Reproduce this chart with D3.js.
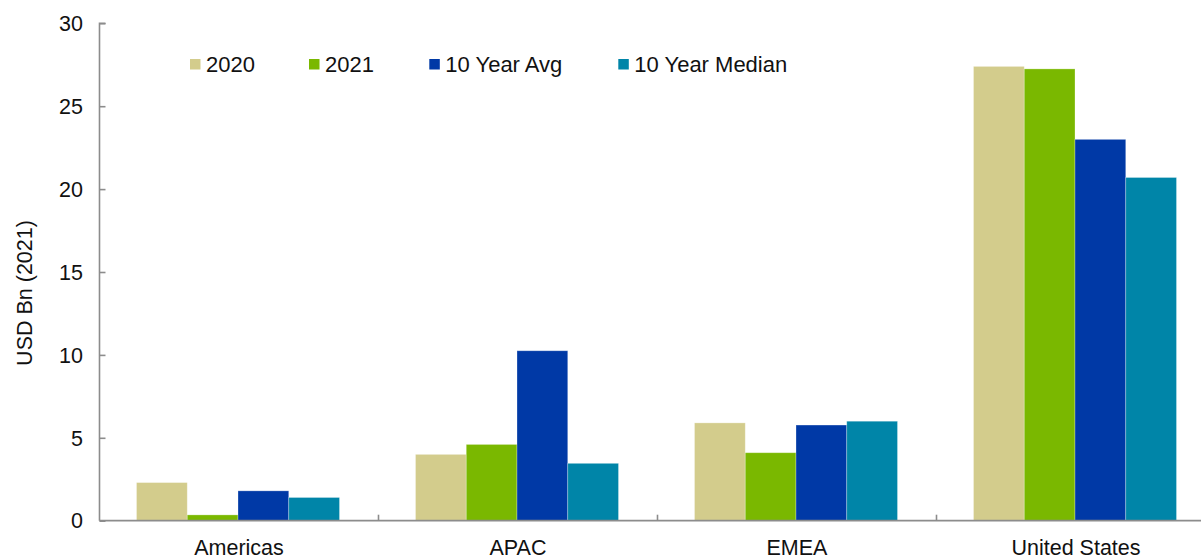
<!DOCTYPE html>
<html>
<head>
<meta charset="utf-8">
<script src="https://cdn.jsdelivr.net/npm/d3@7"></script>
<style>
  html, body { margin: 0; padding: 0; background: #fff; }
  svg { display: block; }
  text { font-family: "Liberation Sans", Arial, sans-serif; fill: #111; }
</style>
</head>
<body>
<div id="chart"></div>
<script>
// Regional totals, USD Bn (2021)
const regions = ["Americas", "APAC", "EMEA", "United States"];
const seriesNames = ["2020", "2021", "10 Year Avg", "10 Year Median"];
const values2020 = [2.3, 4.0, 5.9, 27.4];
const values2021 = [0.35, 4.6, 4.1, 27.25];
const valuesAvg = [1.8, 10.25, 5.77, 23.0];
const valuesMedian = [1.4, 3.46, 6.0, 20.7];
const seriesColors = ["#d3cc8c", "#7ab800", "#0039a6", "#0085a8"];
const yTicks = [0, 5, 10, 15, 20, 25, 30];

const seriesValues = [values2020, values2021, valuesAvg, valuesMedian];
const rows = regions.map((r, i) => ({
  region: r,
  vals: seriesNames.map((s, j) => ({ key: s, value: seriesValues[j][i], color: seriesColors[j] }))
}));

const W = 1201, H = 557;
const plotLeft = 99.5, plotTop = 23.3, plotBottom = 520.7;
const bandW = 279;

const svg = d3.select("#chart").append("svg").attr("width", W).attr("height", H);

const x0 = d3.scaleBand().domain(regions).range([plotLeft, plotLeft + bandW * regions.length]).padding(0);
const x1 = d3.scaleBand().domain(seriesNames).range([37, 240]).padding(0);
const y = d3.scaleLinear().domain([0, 30]).range([plotBottom, plotTop]);

// bars
const groups = svg.append("g").selectAll("g").data(rows).join("g")
  .attr("transform", d => `translate(${x0(d.region)},0)`);
groups.selectAll("rect").data(d => d.vals).join("rect")
  .attr("x", d => x1(d.key))
  .attr("y", d => y(d.value))
  .attr("width", x1.bandwidth())
  .attr("height", d => y(0) - y(d.value))
  .attr("fill", d => d.color)
  .attr("stroke", "rgba(255,255,255,0.35)")
  .attr("stroke-width", 0.8);

// y axis (ticks point into the plot)
const yAxis = d3.axisRight(y).tickValues(yTicks).tickSize(6).tickFormat("");
const gy = svg.append("g").attr("transform", `translate(${plotLeft},0)`).call(yAxis);
gy.select(".domain").attr("stroke", "#8c8c8c").attr("stroke-width", 1.6).attr("d", `M6,${plotTop}H0V${plotBottom}`);
gy.selectAll(".tick line").attr("stroke", "#8c8c8c").attr("stroke-width", 1.6);

svg.append("g").selectAll("text").data(yTicks).join("text")
  .attr("x", 83)
  .attr("y", d => y(d))
  .attr("dy", "0.36em")
  .attr("text-anchor", "end")
  .style("font-size", "21.5px")
  .text(d => d);

// x axis with boundary ticks between regions
const boundaries = regions.map(r => x0(r)).concat([plotLeft + bandW * regions.length]);
const gx = svg.append("g");
gx.append("line")
  .attr("x1", plotLeft).attr("x2", W)
  .attr("y1", plotBottom).attr("y2", plotBottom)
  .attr("stroke", "#8c8c8c").attr("stroke-width", 1.8);
gx.selectAll("line.b").data(boundaries.slice(1)).join("line")
  .attr("class", "b")
  .attr("x1", d => d).attr("x2", d => d)
  .attr("y1", plotBottom).attr("y2", plotBottom - 6)
  .attr("stroke", "#8c8c8c").attr("stroke-width", 1.6);

svg.append("g").selectAll("text").data(regions).join("text")
  .attr("x", d => x0(d) + x0.bandwidth() / 2)
  .attr("y", 554.5)
  .attr("text-anchor", "middle")
  .style("font-size", "21.5px")
  .text(d => d);

// y axis title
svg.append("text")
  .attr("transform", "translate(32,293) rotate(-90)")
  .attr("text-anchor", "middle")
  .style("font-size", "21.5px")
  .text("USD Bn (2021)");

// legend
const legendX = [190, 309, 429.3, 618.3];
const lg = svg.append("g").selectAll("g").data(seriesNames).join("g")
  .attr("transform", (d, i) => `translate(${legendX[i]},0)`);
lg.append("rect")
  .attr("x", 0).attr("y", 59)
  .attr("width", 10.5).attr("height", 10.5)
  .attr("fill", (d, i) => seriesColors[i]);
lg.append("text")
  .attr("x", 16).attr("y", 71.7)
  .style("font-size", "22px")
  .text(d => d);
</script>
</body>
</html>
